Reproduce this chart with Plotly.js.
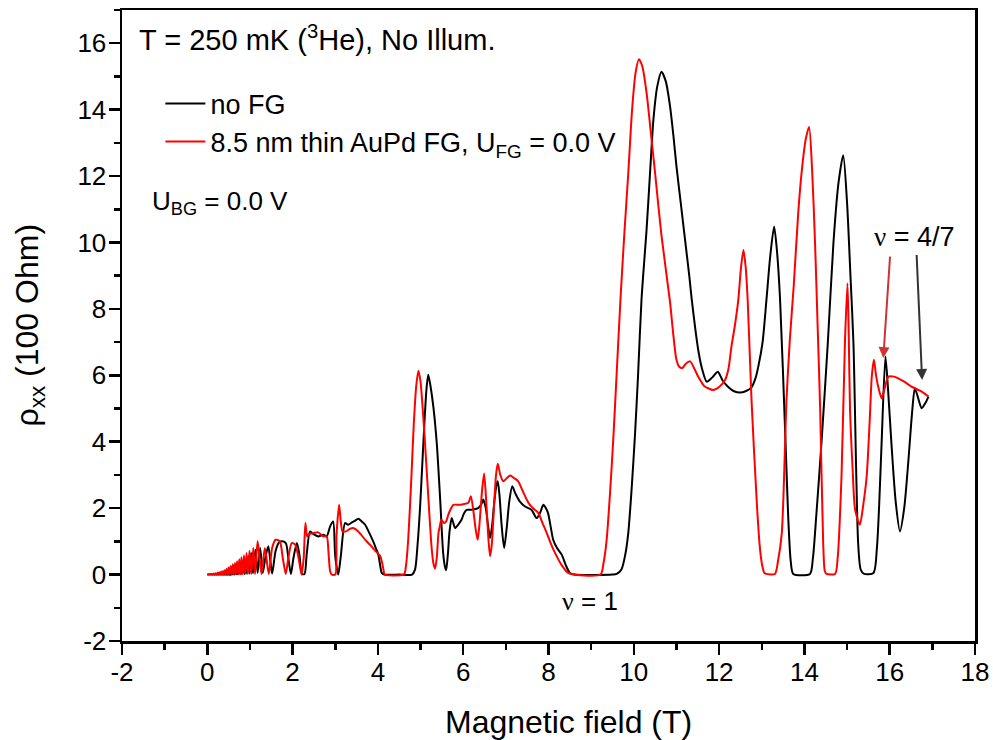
<!DOCTYPE html>
<html>
<head>
<meta charset="utf-8">
<script src="https://cdn.plot.ly/plotly-3.0.1.min.js"></script>
<style>html,body{margin:0;padding:0;background:#fff;}#chart{width:993px;height:740px;}</style>
</head>
<body>
<div id="chart"></div>
<script>
// ---- data ----
// no FG (black)
const fieldNoFG = [0, 0.3, 0.5, 0.54, 0.56, 0.58, 0.61, 0.63, 0.66, 0.68, 0.70, 0.72, 0.75, 0.77, 0.79, 0.81, 0.84, 0.87, 0.90, 0.93, 0.96, 0.99, 1.03, 1.07, 1.13, 1.18, 1.24, 1.30, 1.36, 1.43, 1.48, 1.52, 1.60, 1.67, 1.74, 1.84, 1.90, 1.96, 2.02, 2.10, 2.16, 2.22, 2.28, 2.33, 2.41, 2.49, 2.60, 2.72, 2.80, 2.88, 2.95, 3.00, 3.07, 3.13, 3.23, 3.30, 3.40, 3.46, 3.54, 3.62, 3.70, 3.80, 3.89, 3.95, 4.01, 4.05, 4.09, 4.15, 4.50, 4.80, 4.87, 4.93, 4.99, 5.04, 5.09, 5.14, 5.18, 5.23, 5.30, 5.38, 5.46, 5.53, 5.57, 5.60, 5.64, 5.68, 5.73, 5.78, 5.81, 5.88, 5.96, 6.02, 6.08, 6.20, 6.35, 6.42, 6.47, 6.53, 6.58, 6.63, 6.68, 6.73, 6.78, 6.81, 6.85, 6.90, 6.96, 7.02, 7.08, 7.15, 7.22, 7.33, 7.45, 7.60, 7.72, 7.80, 7.88, 7.94, 7.99, 8.05, 8.11, 8.20, 8.31, 8.40, 8.50, 8.60, 9.50, 9.60, 9.71, 9.80, 9.87, 9.95, 10.03, 10.10, 10.18, 10.30, 10.38, 10.46, 10.55, 10.65, 10.75, 10.85, 10.93, 11.00, 11.10, 11.20, 11.30, 11.36, 11.51, 11.60, 11.71, 11.85, 11.97, 12.08, 12.22, 12.35, 12.49, 12.62, 12.76, 12.85, 12.92, 13.02, 13.11, 13.20, 13.29, 13.36, 13.43, 13.55, 13.62, 13.68, 13.74, 14.13, 14.20, 14.28, 14.40, 14.55, 14.68, 14.80, 14.91, 15.00, 15.08, 15.15, 15.26, 15.32, 15.40, 15.62, 15.70, 15.75, 15.81, 15.90, 15.96, 16.04, 16.14, 16.24, 16.34, 16.44, 16.52, 16.59, 16.67, 16.75, 16.83, 16.91];
const rhoNoFG   = [0, 0, 0, 0.00, 0.05, 0.00, 0.08, 0.00, 0.12, 0.01, 0.17, 0.01, 0.24, 0.02, 0.30, 0.02, 0.38, 0.02, 0.46, 0.03, 0.55, 0.03, 0.65, 0.04, 0.75, 0.05, 0.80, 0.05, 0.50, 0.85, 0.40, 0.03, 0.70, 0.95, 1.00, 0.95, 0.50, 0.02, 0.50, 0.95, 0.60, 0.02, 0.02, 0.60, 1.30, 1.22, 1.15, 1.20, 1.15, 1.45, 1.60, 0.55, 0.00, 0.55, 1.55, 1.50, 1.58, 1.62, 1.68, 1.60, 1.50, 1.25, 1.00, 0.80, 0.60, 0.30, 0.05, 0, 0, 0, 0.15, 0.90, 2.05, 3.30, 4.56, 5.60, 6.02, 5.70, 5.06, 3.96, 2.26, 0.65, 0.25, 0.13, 0.60, 1.30, 1.70, 1.50, 1.40, 1.50, 1.65, 1.85, 1.95, 1.95, 2.00, 2.10, 2.26, 2.00, 1.50, 1.10, 1.50, 2.20, 2.70, 2.81, 2.40, 1.50, 0.80, 1.40, 2.20, 2.66, 2.45, 2.20, 2.05, 1.95, 1.70, 1.85, 2.10, 2.00, 1.85, 1.45, 1.05, 0.80, 0.60, 0.30, 0.05, 0, 0, 0.02, 0.15, 0.60, 1.25, 2.60, 4.26, 6.00, 8.27, 10.40, 12.08, 13.70, 14.70, 15.14, 14.85, 14.10, 13.20, 12.30, 11.20, 10.10, 9.00, 8.27, 6.77, 6.20, 5.81, 5.95, 6.11, 5.85, 5.64, 5.52, 5.48, 5.52, 5.64, 5.90, 6.27, 7.00, 8.27, 9.60, 10.48, 9.70, 8.27, 4.26, 1.75, 0.40, 0.02, 0.02, 0.50, 1.80, 3.96, 7.00, 9.97, 11.80, 12.63, 11.20, 9.00, 6.97, 0.95, 0.15, 0.02, 0.05, 0.80, 2.00, 3.96, 6.57, 5.60, 3.96, 2.20, 1.30, 2.00, 3.46, 4.80, 5.61, 5.30, 5.01, 5.15, 5.36];

// 8.5 nm thin AuPd FG (red)
const fieldFG = [0, 0.10, 0.12, 0.15, 0.17, 0.20, 0.22, 0.25, 0.27, 0.30, 0.32, 0.35, 0.37, 0.40, 0.42, 0.45, 0.47, 0.50, 0.52, 0.55, 0.57, 0.60, 0.62, 0.65, 0.67, 0.70, 0.725, 0.75, 0.775, 0.80, 0.83, 0.86, 0.89, 0.92, 0.95, 0.99, 1.03, 1.08, 1.12, 1.18, 1.27, 1.35, 1.44, 1.52, 1.60, 1.70, 1.77, 1.84, 1.90, 1.98, 2.06, 2.14, 2.21, 2.26, 2.30, 2.34, 2.37, 2.49, 2.60, 2.72, 2.80, 2.84, 2.88, 2.92, 3.00, 3.03, 3.09, 3.13, 3.17, 3.25, 3.35, 3.42, 3.54, 3.70, 3.85, 3.95, 4.05, 4.10, 4.13, 4.16, 4.60, 4.63, 4.67, 4.71, 4.75, 4.79, 4.84, 4.90, 4.95, 5.00, 5.05, 5.10, 5.16, 5.22, 5.26, 5.30, 5.34, 5.38, 5.42, 5.45, 5.49, 5.55, 5.60, 5.65, 5.70, 5.77, 5.90, 6.00, 6.12, 6.18, 6.24, 6.30, 6.34, 6.38, 6.44, 6.49, 6.54, 6.59, 6.63, 6.67, 6.72, 6.77, 6.81, 6.87, 6.94, 7.02, 7.10, 7.20, 7.29, 7.40, 7.53, 7.65, 7.76, 7.86, 7.96, 8.05, 8.15, 8.30, 8.46, 8.60, 9.22, 9.29, 9.36, 9.44, 9.52, 9.60, 9.69, 9.78, 9.87, 9.96, 10.04, 10.12, 10.20, 10.30, 10.40, 10.50, 10.65, 10.85, 10.92, 11.00, 11.07, 11.14, 11.22, 11.32, 11.42, 11.51, 11.65, 11.86, 12.00, 12.14, 12.22, 12.29, 12.37, 12.45, 12.51, 12.57, 12.62, 12.67, 12.76, 12.88, 12.95, 13.00, 13.06, 13.10, 13.31, 13.38, 13.47, 13.58, 13.66, 13.75, 13.86, 13.95, 14.03, 14.11, 14.18, 14.25, 14.31, 14.37, 14.44, 14.48, 14.52, 14.72, 14.78, 14.87, 14.95, 15.01, 15.04, 15.07, 15.13, 15.19, 15.30, 15.38, 15.46, 15.53, 15.58, 15.63, 15.68, 15.73, 15.81, 15.88, 15.97, 16.10, 16.20, 16.35, 16.51, 16.75, 16.91];
const rhoFG   = [0, 0.02, 0.00, 0.03, 0.00, 0.04, 0.00, 0.06, 0.00, 0.08, 0.00, 0.10, 0.00, 0.13, 0.00, 0.17, 0.00, 0.21, 0.00, 0.26, 0.00, 0.31, 0.00, 0.35, 0.01, 0.40, 0.01, 0.46, 0.01, 0.52, 0.01, 0.58, 0.02, 0.65, 0.02, 0.72, 0.02, 0.80, 0.02, 1.00, 0.02, 0.80, 0.02, 0.80, 1.05, 1.00, 0.50, 0.02, 0.50, 0.95, 0.90, 0.50, 0.00, 0.50, 1.55, 1.15, 1.20, 1.25, 1.27, 1.15, 1.15, 0.70, 0.10, 0.00, 0.00, 1.20, 2.10, 1.60, 1.30, 1.30, 1.38, 1.40, 1.30, 1.05, 0.85, 0.70, 0.57, 0.35, 0.15, 0, 0, 0.05, 0.40, 1.05, 2.00, 3.06, 4.50, 5.70, 6.14, 5.80, 5.00, 4.06, 2.80, 1.55, 0.80, 0.35, 0.18, 0.50, 1.25, 1.45, 1.65, 1.55, 1.60, 1.80, 1.95, 2.10, 2.10, 2.12, 2.16, 2.36, 1.90, 1.30, 1.05, 1.50, 2.50, 3.04, 2.20, 1.10, 0.55, 0.90, 2.00, 3.00, 3.34, 3.00, 2.81, 2.90, 2.98, 2.90, 2.81, 2.50, 2.16, 1.98, 1.86, 1.55, 1.25, 0.95, 0.66, 0.30, 0.05, 0, 0, 0.35, 1.00, 2.40, 4.10, 6.10, 8.35, 10.30, 12.08, 14.00, 15.10, 15.52, 15.30, 14.50, 13.30, 12.08, 10.20, 8.20, 7.30, 6.47, 6.25, 6.22, 6.35, 6.42, 6.20, 5.96, 5.68, 5.56, 5.65, 5.86, 6.20, 6.87, 7.50, 8.27, 9.20, 9.77, 9.30, 8.27, 5.26, 2.26, 0.90, 0.35, 0.05, 0.02, 0.02, 0.40, 1.25, 5.26, 7.10, 8.70, 10.98, 12.30, 13.10, 13.48, 12.20, 9.97, 7.50, 4.96, 0.95, 0.10, 0.02, 0.02, 0.50, 2.96, 6.97, 8.77, 7.20, 4.96, 3.20, 1.95, 1.50, 2.10, 2.96, 4.60, 5.96, 6.47, 6.00, 5.66, 5.31, 5.60, 5.96, 5.96, 5.91, 5.80, 5.66, 5.51, 5.36];

const seriesNames = ["no FG", "8.5 nm thin AuPd FG, U<sub>FG</sub> = 0.0 V"];
const seriesColors = ["#000000", "#ff0000"];
const xTickVals = [-2, 0, 2, 4, 6, 8, 10, 12, 14, 16, 18];
const xTickText = ["-2", "0", "2", "4", "6", "8", "10", "12", "14", "16", "18"];
const yTickVals = [-2, 0, 2, 4, 6, 8, 10, 12, 14, 16];
const yTickText = ["-2", "0", "2", "4", "6", "8", "10", "12", "14", "16"];
const xTitle = "Magnetic field (T)";
const yTitle = "\u03c1<sub>xx</sub> (100 Ohm)";
const headerText = "T = 250 mK (<sup>3</sup>He), No Illum.";
const gateText = "U<sub>BG</sub> = 0.0 V";

const FONT = "Arial, 'Liberation Sans', sans-serif";
const NU = "<span style=\"font-family:'Liberation Serif', 'Times New Roman', serif\">\u03bd</span>";

const traces = [
  {x: fieldNoFG, y: rhoNoFG, name: seriesNames[0], type: "scatter", mode: "lines",
   line: {color: seriesColors[0], width: 2, shape: "spline", smoothing: 0.7}},
  {x: fieldFG, y: rhoFG, name: seriesNames[1], type: "scatter", mode: "lines",
   line: {color: seriesColors[1], width: 2, shape: "spline", smoothing: 0.7}}
];

const axisCommon = {
  showline: true, linewidth: 2.5, linecolor: "#000", mirror: true,
  showgrid: false, zeroline: false,
  ticks: "outside", ticklen: 11, tickwidth: 2.5, tickcolor: "#000",
  tickfont: {family: FONT, size: 26, color: "#000"},
  tickmode: "array",
  minor: {ticks: "outside", ticklen: 6, tickwidth: 2.5, tickcolor: "#000", showgrid: false, dtick: 1, tick0: 0}
};

const layout = {
  width: 993, height: 740,
  margin: {l: 122, r: 18, t: 10, b: 99},
  paper_bgcolor: "#fff", plot_bgcolor: "#fff",
  font: {family: FONT, color: "#000"},
  showlegend: true,
  legend: {x: 0.045, y: 0.89, xanchor: "left", yanchor: "top",
           bgcolor: "rgba(0,0,0,0)", font: {family: FONT, size: 27, color: "#000"},
           tracegroupgap: 0, itemwidth: 40},
  xaxis: Object.assign({}, axisCommon, {
    range: [-2, 18], tickvals: xTickVals, ticktext: xTickText, ticklabelstandoff: -5
  }),
  yaxis: Object.assign({}, axisCommon, {
    range: [-2, 17], tickvals: yTickVals, ticktext: yTickText, ticklabelstandoff: -3
  }),
  annotations: [
    {xref: "paper", yref: "paper", x: 0.523, y: -0.128, xanchor: "center", yanchor: "middle",
     text: xTitle, showarrow: false, font: {family: FONT, size: 32, color: "#000"}},
    {xref: "paper", yref: "paper", x: -0.108, y: 0.5, xanchor: "center", yanchor: "middle",
     textangle: -90, text: yTitle, showarrow: false, font: {family: FONT, size: 32, color: "#000"}},
    {xref: "paper", yref: "paper", x: 0.018, y: 0.955, xanchor: "left", yanchor: "middle",
     text: headerText, showarrow: false, font: {family: FONT, size: 29, color: "#000"}},
    {xref: "paper", yref: "paper", x: 0.033, y: 0.695, xanchor: "left", yanchor: "middle",
     text: gateText, showarrow: false, font: {family: FONT, size: 26, color: "#000"}},
    {xref: "x", yref: "y", x: 8.98, y: -0.8, text: NU + " = 1", showarrow: false,
     font: {family: FONT, size: 26, color: "#000"}},
    {xref: "x", yref: "y", x: 16.58, y: 10.15, text: NU + " = 4/7", showarrow: false,
     font: {family: FONT, size: 27, color: "#000"}},
    {xref: "x", yref: "y", axref: "x", ayref: "y", x: 15.85, y: 6.52, ax: 16.01, ay: 9.62,
     text: "", showarrow: true, arrowhead: 2, arrowsize: 1.1, arrowwidth: 2, arrowcolor: "#cc3333"},
    {xref: "x", yref: "y", axref: "x", ayref: "y", x: 16.76, y: 5.86, ax: 16.63, ay: 9.67,
     text: "", showarrow: true, arrowhead: 2, arrowsize: 1.1, arrowwidth: 2, arrowcolor: "#333333"}
  ]
};

Plotly.newPlot("chart", traces, layout, {displayModeBar: false, staticPlot: true});
</script>
</body>
</html>
